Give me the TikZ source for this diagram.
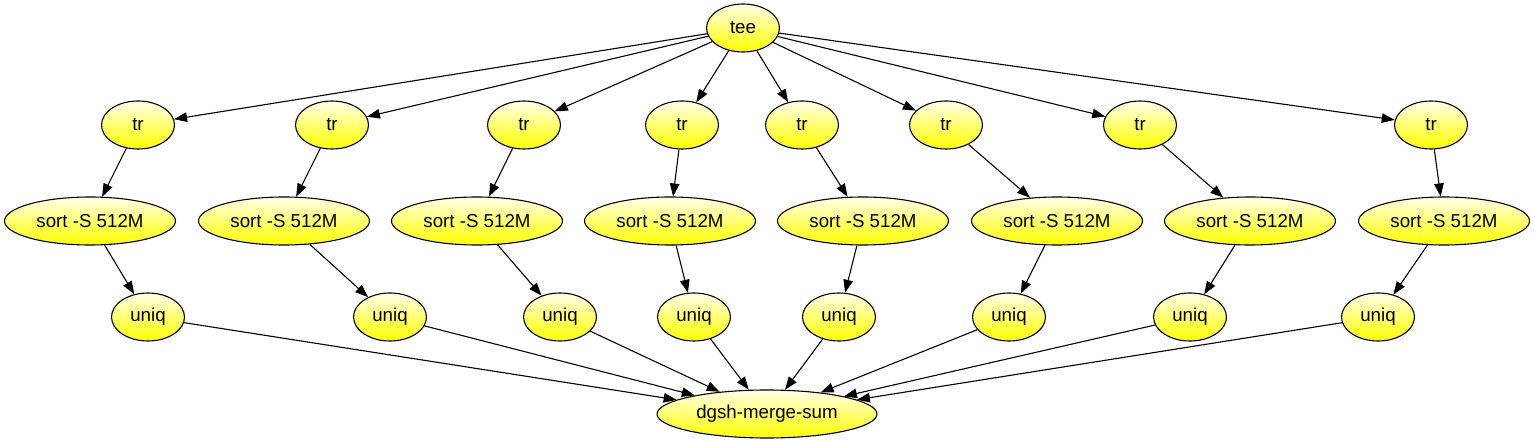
\documentclass[tikz,border=0pt]{standalone}
\usepackage{fontspec}
\setmainfont{Liberation Sans}
\usetikzlibrary{shapes.geometric,arrows.meta}
\begin{document}
\begin{tikzpicture}[x=1pt,y=-1pt,
  nd/.style={ellipse,draw=black,line width=1.1pt,top color=yellow!8!white,bottom color=yellow,
    middle color=yellow!55!white,
    inner sep=0pt,minimum height=48pt,font=\fontsize{18.7}{22}\selectfont},
  smallnd/.style={nd,minimum width=73pt},
  sortnd/.style={nd,minimum width=171pt},
  bignd/.style={nd,minimum width=220pt},
  edge/.style={draw=black,line width=1.1pt,-{Triangle[length=13pt,width=9.5pt]}}]
\useasboundingbox (0,0) rectangle (1534,443);
\node[smallnd] (tee) at (743,28) {tee};
\foreach \i/\x in {1/138,2/332,3/524,4/682,5/802,6/946,7/1140,8/1431}
  \node[smallnd] (tr\i) at (\x,125) {tr};
\foreach \i/\x in {1/90,2/284,3/477,4/670,5/863,6/1057,7/1250,8/1444}
  \node[sortnd] (s\i) at (\x,221) {sort -S 512M};
\foreach \i/\x in {1/148,2/390,3/560,4/694,5/839,6/1009,7/1190,8/1378}
  \node[smallnd] (u\i) at (\x,317) {uniq};
\node[bignd] (m) at (767,414) {dgsh-merge-sum};
\foreach \i in {1,...,8}{
  \path[edge] (tee) -- (tr\i);
  \path[edge] (tr\i) -- (s\i);
  \path[edge] (s\i) -- (u\i);
  \path[edge] (u\i) -- (m);
}
\end{tikzpicture}
\end{document}
